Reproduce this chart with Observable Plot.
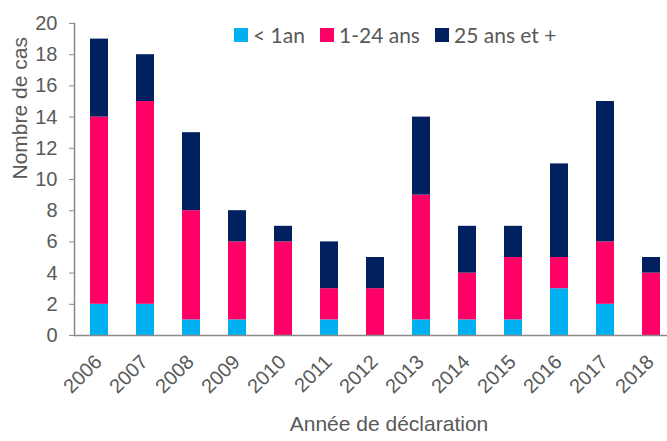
<!DOCTYPE html>
<html>
<head>
<meta charset="utf-8">
<script src="https://cdn.jsdelivr.net/npm/d3@7"></script>
<script src="https://cdn.jsdelivr.net/npm/@observablehq/plot@0.6"></script>
<style>
  html, body { margin: 0; padding: 0; background: #fff; }
  #wrap { position: relative; width: 667px; height: 441px; }
  .legend .item { position: absolute; top: 24px; display: flex; align-items: center; font-family: Lato, "Open Sans", sans-serif; font-size: 21px; color: #595959; line-height: 22px; white-space: nowrap; }
  .legend .sw { width: 14px; height: 14px; margin-right: 5px; }
</style>
</head>
<body>
<div id="wrap"></div>
<script>
const years = [2006, 2007, 2008, 2009, 2010, 2011, 2012, 2013, 2014, 2015, 2016, 2017, 2018];
const under1 = [2, 2, 1, 1, 0, 1, 0, 1, 1, 1, 3, 2, 0];
const age1to24 = [12, 13, 7, 5, 6, 2, 3, 8, 3, 4, 2, 4, 4];
const age25plus = [5, 3, 5, 2, 1, 3, 2, 5, 3, 2, 6, 9, 1];
const seriesNames = ["< 1an", "1-24 ans", "25 ans et +"];
const seriesColors = ["#00B0F0", "#FF0066", "#002060"];
const yTicks = [0, 2, 4, 6, 8, 10, 12, 14, 16, 18, 20];
const xTitle = "Année de déclaration";
const yTitle = "Nombre de cas";

const seriesValues = [under1, age1to24, age25plus];
const data = [];
years.forEach((yr, i) => {
  seriesNames.forEach((s, j) => data.push({year: String(yr), group: s, value: seriesValues[j][i]}));
});

const font = "'Liberation Sans', Arial, sans-serif";
const gray = "#595959";
const axisGray = "#898989";

const chart = Plot.plot({
  width: 667,
  height: 441,
  marginLeft: 74,
  marginRight: 0,
  marginTop: 23,
  marginBottom: 106,
  style: {fontFamily: font, fontSize: "20px", color: gray, background: "white"},
  x: {domain: years.map(String), range: [74, 676], padding: 0.61, paddingOuter: 0.325, label: null},
  y: {domain: [0, 20], label: null},
  color: {domain: seriesNames, range: seriesColors},
  marks: [
    Plot.barY(data, Plot.stackY({x: "year", y: "value", z: "group", fill: "group", order: seriesNames})),
    Plot.frame({anchor: "left", stroke: axisGray, strokeWidth: 1.5}),
    Plot.ruleY([0], {stroke: axisGray, strokeWidth: 1.5}),
    Plot.axisY({ticks: yTicks, tickSize: 5, tickPadding: 12, stroke: axisGray, fill: gray, fontSize: 20, fontFamily: font, label: null, tickFormat: d => String(d)}),
    Plot.axisX({tickSize: 0, tickRotate: -45, tickPadding: 23, dx: -1, fill: gray, fontSize: 20, fontFamily: font, label: null}),
    Plot.text([yTitle], {frameAnchor: "left", rotate: -90, dx: -54, fill: gray, fontSize: 21, fontFamily: font}),
    Plot.text([xTitle], {frameAnchor: "bottom", dx: 18, dy: 95, fill: gray, fontSize: 21, fontFamily: font})
  ]
});

const wrap = document.getElementById("wrap");
wrap.appendChild(chart);

const legendX = [234, 320, 435];
const legend = document.createElement("div");
legend.className = "legend";
seriesNames.forEach((s, j) => {
  const item = document.createElement("div");
  item.className = "item";
  item.style.left = legendX[j] + "px";
  const sw = document.createElement("span");
  sw.className = "sw";
  sw.style.background = seriesColors[j];
  item.appendChild(sw);
  const t = document.createElement("span");
  t.textContent = s;
  item.appendChild(t);
  legend.appendChild(item);
});
wrap.appendChild(legend);
</script>
</body>
</html>
